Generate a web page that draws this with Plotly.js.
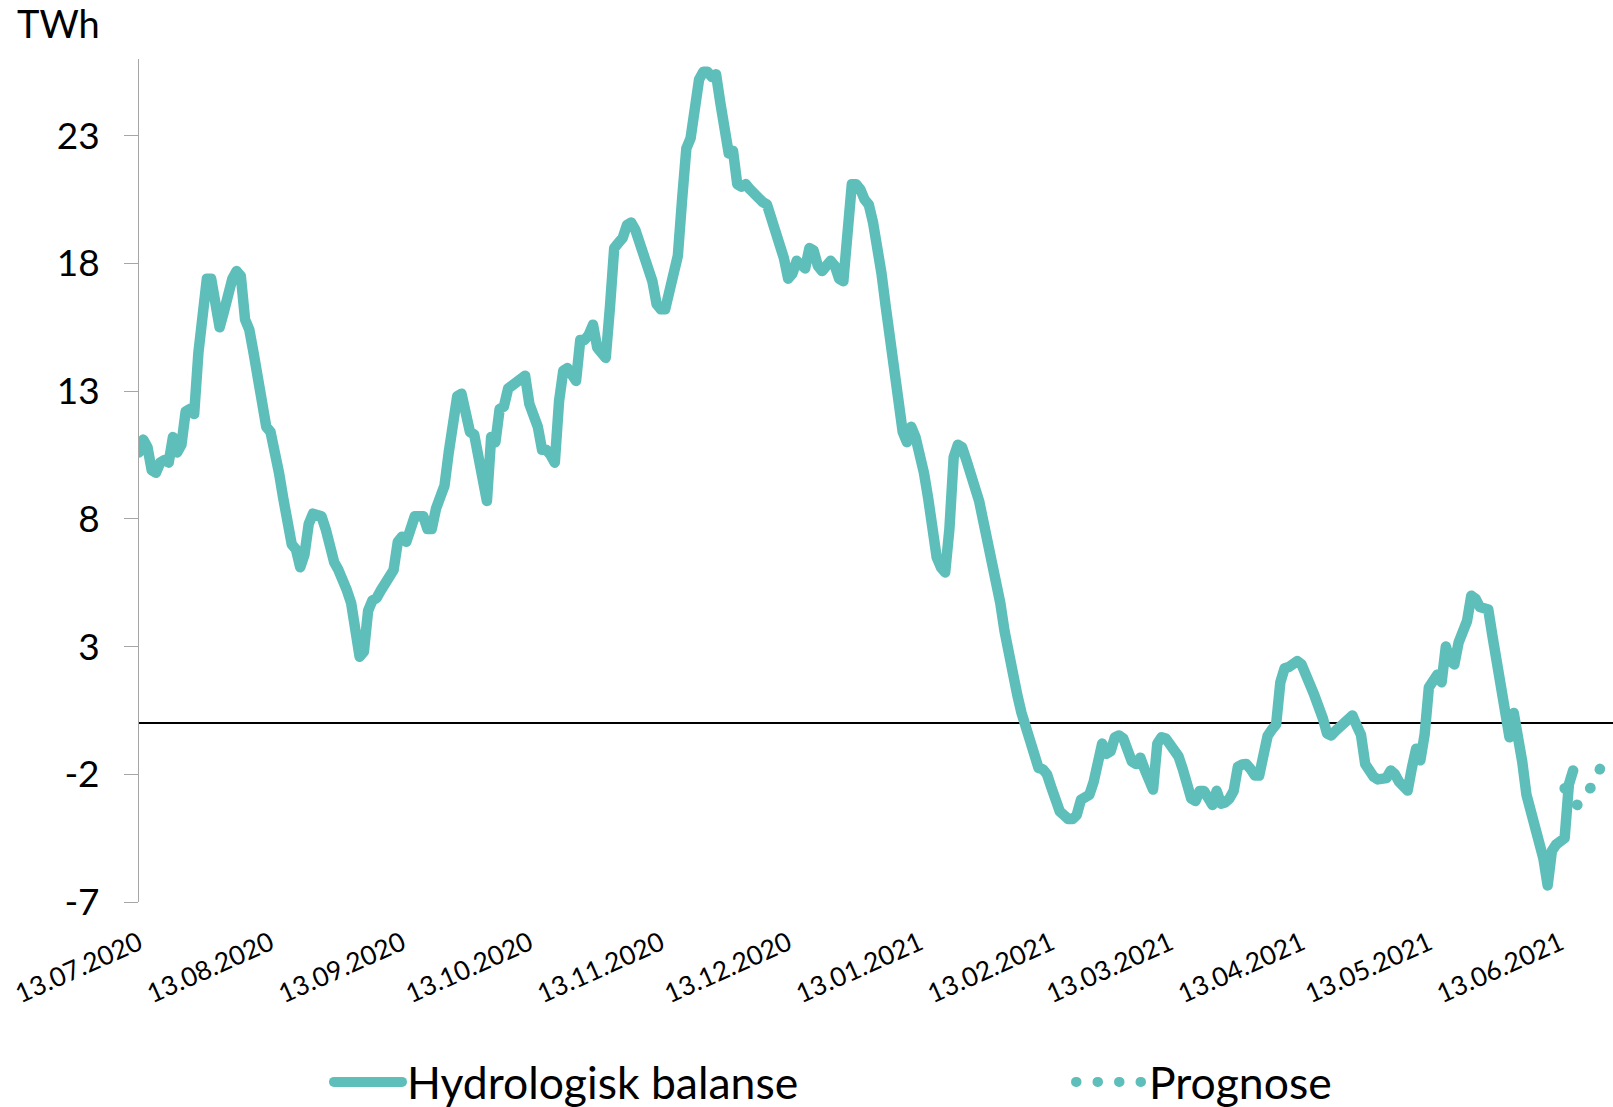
<!DOCTYPE html>
<html>
<head>
<meta charset="utf-8">
<script src="https://cdn.plot.ly/plotly-3.0.1.min.js"></script>
<style>
  html, body { margin: 0; padding: 0; background: #ffffff; }
  #chart { width: 1613px; height: 1107px; }
</style>
</head>
<body>
<div id="chart"></div>
<script>
// Hydrologisk balanse (TWh), daily values per month: [year-month, first day, values]
const hb_2020_07 = ['2020-07', 13, [10.6, 11.1, 10.8, 9.9, 9.8, 10.2, 10.3, 10.2, 11.2, 10.6, 10.9, 12.2, 12.3, 12.1, 14.5, 16.2, 17.4, 17.4, 16.6]];
const hb_2020_08 = ['2020-08', 1, [15.5, 16.1, 16.8, 17.4, 17.7, 17.5, 15.8, 15.4, 14.5, 13.3, 12.2, 11.6, 11.4, 10.7, 9.8, 8.8, 7.7, 7.0, 6.8, 6.1, 6.6, 7.8, 8.2, 8.1, 8.1, 7.6, 6.9, 6.3, 6.0, 5.7, 5.2]];
const hb_2020_09 = ['2020-09', 1, [4.7, 3.2, 2.6, 2.8, 4.4, 4.8, 4.9, 5.2, 5.5, 5.6, 6.0, 7.1, 7.3, 7.1, 7.6, 8.1, 8.1, 8.1, 7.6, 7.6, 8.4, 8.9, 9.3, 10.6, 12.0, 12.8, 12.9, 12.3, 11.4, 11.3]];
const hb_2020_10 = ['2020-10', 1, [10.4, 9.2, 8.7, 11.2, 11.0, 12.3, 12.4, 13.1, 13.2, 13.4, 13.5, 13.6, 12.5, 12.0, 11.6, 10.7, 10.7, 10.5, 10.2, 12.6, 13.8, 13.9, 13.6, 13.4, 15.0, 15.0, 15.2, 15.6, 14.7, 14.5, 14.3]];
const hb_2020_11 = ['2020-11', 1, [16.3, 18.6, 18.8, 19.0, 19.5, 19.6, 19.3, 18.8, 18.0, 17.7, 17.3, 16.4, 16.2, 16.2, 17.0, 17.5, 18.3, 20.5, 22.5, 22.9, 24.5, 25.2, 25.5, 25.5, 25.3, 25.4, 24.3, 23.2, 22.3, 22.4]];
const hb_2020_12 = ['2020-12', 1, [21.1, 21.0, 21.1, 20.9, 20.7, 20.5, 20.4, 20.3, 19.8, 19.4, 18.8, 18.2, 17.4, 17.6, 18.1, 18.0, 17.8, 18.6, 18.5, 17.9, 17.7, 17.9, 18.1, 17.9, 17.4, 17.3, 19.5, 21.1, 21.1, 20.9, 20.5]];
const hb_2021_01 = ['2021-01', 1, [20.3, 19.6, 18.7, 17.6, 16.3, 14.9, 13.6, 12.2, 11.4, 11.0, 11.6, 11.2, 10.6, 9.8, 8.8, 7.4, 6.5, 6.1, 5.9, 7.6, 10.4, 10.9, 10.8, 10.3, 9.8, 9.3, 8.7, 7.9, 7.2, 6.5, 5.8]];
const hb_2021_02 = ['2021-02', 1, [4.7, 3.6, 2.6, 1.8, 1.1, 0.4, -0.2, -0.8, -1.4, -1.75, -1.8, -2.0, -2.5, -3.0, -3.45, -3.6, -3.75, -3.75, -3.6, -3.0, -2.9, -2.8, -2.3, -1.4, -0.8, -1.2, -1.1, -0.55]];
const hb_2021_03 = ['2021-03', 1, [-0.48, -0.6, -1.2, -1.5, -1.6, -1.35, -1.8, -2.3, -2.6, -0.8, -0.55, -0.6, -0.85, -0.95, -1.3, -1.8, -2.5, -2.95, -3.05, -2.65, -2.65, -2.95, -3.2, -2.65, -3.15, -3.1, -2.95, -2.65, -1.7, -1.62, -1.6]];
const hb_2021_04 = ['2021-04', 1, [-1.8, -2.05, -2.05, -1.2, -0.5, -0.25, -0.05, 1.6, 2.15, 2.2, 2.3, 2.43, 2.3, 2.0, 1.5, 1.1, 0.7, 0.2, -0.4, -0.48, -0.3, -0.15, 0.05, 0.2, 0.3, -0.1, -0.45, -1.6, -1.9, -2.1]];
const hb_2021_05 = ['2021-05', 1, [-2.2, -2.2, -2.15, -1.85, -2.0, -2.3, -2.55, -2.64, -1.75, -1.0, -1.45, -0.45, 1.4, 1.65, 1.9, 1.6, 3.0, 2.45, 2.3, 3.15, 3.6, 4.0, 4.99, 4.87, 4.55, 4.5, 4.45, 3.4, 2.3, 1.3, 0.25]];
const hb_2021_06 = ['2021-06', 1, [-0.55, 0.4, -0.4, -1.5, -2.8, -3.5, -4.1, -4.5, -5.3, -6.35, -5.0, -4.75, -4.6, -4.5, -2.4, -1.85]];

// Prognose (TWh)
const progDates = ['2021-06-14', '2021-06-15', '2021-06-16', '2021-06-17', '2021-06-18', '2021-06-19', '2021-06-20', '2021-06-21', '2021-06-22', '2021-06-23'];
const progValues = [-2.55, -2.9, -3.15, -3.2, -2.85, -2.72, -2.55, -2.35, -1.95, -1.45];

// Axis ticks
const xTickVals = ['2020-07-13', '2020-08-13', '2020-09-13', '2020-10-13', '2020-11-13', '2020-12-13', '2021-01-13', '2021-02-13', '2021-03-13', '2021-04-13', '2021-05-13', '2021-06-13'];
const xTickText = ['13.07.2020', '13.08.2020', '13.09.2020', '13.10.2020', '13.11.2020', '13.12.2020', '13.01.2021', '13.02.2021', '13.03.2021', '13.04.2021', '13.05.2021', '13.06.2021'];
const yTickVals = [-7, -2, 3, 8, 13, 18, 23];
const yTickText = ['-7', '-2', '3', '8', '13', '18', '23'];

const seriesNames = ['Hydrologisk balanse', 'Prognose'];
const unitLabel = 'TWh';

// Build the daily table from the month arrays
const months = [hb_2020_07, hb_2020_08, hb_2020_09, hb_2020_10, hb_2020_11, hb_2020_12,
                hb_2021_01, hb_2021_02, hb_2021_03, hb_2021_04, hb_2021_05, hb_2021_06];
const hbDates = [], hbValues = [];
months.forEach(([ym, first, vals]) => {
  vals.forEach((v, i) => {
    const d = first + i;
    hbDates.push(ym + '-' + (d < 10 ? '0' + d : d));
    hbValues.push(v);
  });
});

const teal = '#5EBEBA';
const FONT = 'Lato, "Open Sans", sans-serif';

const traces = [
  {
    x: hbDates, y: hbValues, type: 'scatter', mode: 'lines', name: seriesNames[0],
    legend: 'legend',
    line: { color: teal, width: 10.5 }, hoverinfo: 'x+y'
  },
  {
    x: progDates, y: progValues, type: 'scatter', mode: 'lines', name: seriesNames[1],
    legend: 'legend2',
    line: { color: teal, width: 10.5, dash: '0.5px,21px' }, hoverinfo: 'x+y'
  }
];

const legendCommon = {
  orientation: 'h', xanchor: 'left', y: -0.2135, yanchor: 'middle',
  font: { family: FONT, size: 44.5, color: '#000000' },
  itemwidth: 68,
  bgcolor: 'rgba(0,0,0,0)', borderwidth: 0
};

const layout = {
  width: 1613, height: 1107,
  margin: { l: 139, r: 0, t: 59, b: 205, pad: 0, autoexpand: false },
  paper_bgcolor: '#ffffff', plot_bgcolor: '#ffffff',
  font: { family: FONT, color: '#000000' },
  showlegend: true,
  legend: Object.assign({}, legendCommon, { x: 0.1289 }),
  legend2: Object.assign({}, legendCommon, { x: 0.6323 }),
  xaxis: {
    type: 'date',
    range: ['2020-07-13', '2021-06-25 09:36'],
    tickmode: 'array', tickvals: xTickVals, ticktext: xTickText,
    tickangle: -24,
    tickfont: { family: FONT, size: 26.5, color: '#000000' },
    ticks: '', showgrid: false, showline: false, zeroline: false,
    ticklabelstandoff: 20,
    automargin: false, fixedrange: true
  },
  yaxis: {
    range: [-7, 26],
    tickmode: 'array', tickvals: yTickVals, ticktext: yTickText,
    tickfont: { family: FONT, size: 37, color: '#000000' },
    ticks: 'outside', ticklen: 14, tickwidth: 1, tickcolor: '#A6A6A6',
    showline: true, linecolor: '#A6A6A6', linewidth: 1,
    showgrid: false,
    zeroline: true, zerolinecolor: '#000000', zerolinewidth: 1.4,
    ticklabelstandoff: 17,
    automargin: false, fixedrange: true
  },
  annotations: [
    {
      text: unitLabel, xref: 'paper', yref: 'paper',
      x: -0.0841, xanchor: 'left', y: 1.0426, yanchor: 'middle',
      showarrow: false, font: { family: FONT, size: 38, color: '#000000' }
    }
  ]
};

Plotly.newPlot('chart', traces, layout, { displayModeBar: false, staticPlot: true }).then(() => {
  document.querySelectorAll('#chart path.js-line').forEach(p => {
    p.style.strokeLinecap = 'round';
    p.style.strokeLinejoin = 'round';
  });
});
</script>
</body>
</html>
